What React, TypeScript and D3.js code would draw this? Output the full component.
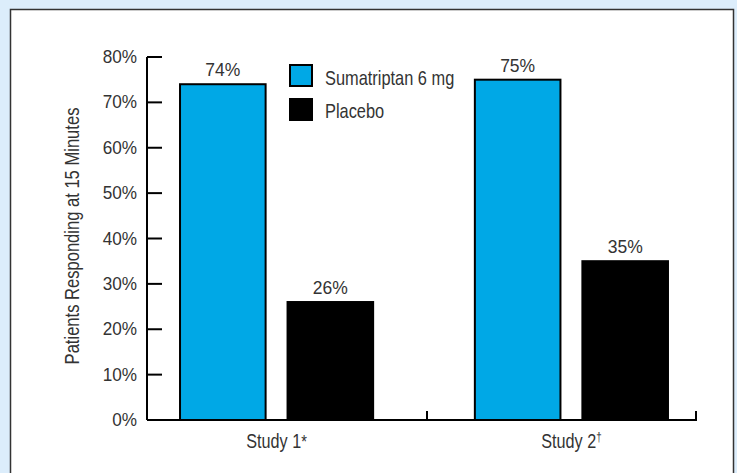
import React from "react";
import * as d3 from "d3";

const studies = ["Study 1", "Study 2"];
const studyMarks = ["*", "†"];
const seriesNames = ["Sumatriptan 6 mg", "Placebo"];
const sumatriptan = [74, 75];
const placebo = [26, 35];
const yTicks = [0, 10, 20, 30, 40, 50, 60, 70, 80];

const W = 737;
const H = 473;
const FONT = "'Liberation Sans', Arial, sans-serif";
const BLUE = "#00a8e6";
const INK = "#333";
const colors = [BLUE, "#000000"];

// Condensed text: Liberation Sans squeezed horizontally
function NText(props: {
  x: number;
  y: number;
  size: number;
  sx?: number;
  anchor?: "start" | "middle" | "end";
  rotate?: number;
  children: React.ReactNode;
}) {
  const { x, y, size, sx = 1, anchor = "start", rotate = 0, children } = props;
  return (
    <text
      transform={`translate(${x},${y}) rotate(${rotate}) scale(${sx},1)`}
      textAnchor={anchor}
      fontSize={size}
      fill={INK}
    >
      {children}
    </text>
  );
}

export default function App() {
  const axisX = 147;
  const axisEnd = 696;
  const y = d3.scaleLinear().domain([0, 80]).range([420, 57]);
  const x0 = d3
    .scaleBand<string>()
    .domain(studies)
    .range([axisX, 701])
    .paddingInner(0.345)
    .paddingOuter(0.112);
  const x1 = d3
    .scaleBand<string>()
    .domain(seriesNames)
    .range([0, x0.bandwidth()])
    .paddingInner(0.204);
  const groupTicks = [427, axisEnd];

  const values = [sumatriptan, placebo];

  return (
    <svg
      width={W}
      height={H}
      style={{ position: "absolute", left: 0, top: 0, display: "block" }}
      fontFamily={FONT}
    >
      <rect x={0} y={0} width={W} height={H} fill="#dcedfb" />
      <rect x={10.5} y={9.5} width={723} height={480} fill="#ffffff" stroke="#333" strokeWidth={1.5} />

      {/* y axis */}
      <line x1={axisX} x2={axisX} y1={y(80)} y2={y(0)} stroke="#000" strokeWidth={2} />
      {yTicks.map((t) => (
        <g key={t}>
          <line x1={axisX} x2={axisX + 15} y1={y(t)} y2={y(t)} stroke="#000" strokeWidth={2} />
          <NText x={137} y={y(t) + 6} size={17.5} sx={0.98} anchor="end">
            {t}%
          </NText>
        </g>
      ))}
      <NText x={79} y={236} size={19.5} sx={0.85} anchor="middle" rotate={-90}>
        Patients Responding at 15 Minutes
      </NText>

      {/* bars */}
      {studies.map((s, i) => (
        <g key={s} transform={`translate(${x0(s)},0)`}>
          {seriesNames.map((n, j) => {
            const v = values[j][i];
            const bx = x1(n)!;
            return (
              <g key={n}>
                <rect
                  x={bx}
                  y={y(v)}
                  width={x1.bandwidth()}
                  height={y(0) - y(v)}
                  fill={colors[j]}
                  stroke="#000"
                  strokeWidth={2}
                />
                <NText x={bx + x1.bandwidth() / 2} y={y(v) - 8} size={17.5} anchor="middle">
                  {v}%
                </NText>
              </g>
            );
          })}
          <NText x={x0.bandwidth() / 2} y={448} size={20} sx={0.81} anchor="middle">
            {s}
            {studyMarks[i] === "*" ? (
              <tspan fontSize={18}>{studyMarks[i]}</tspan>
            ) : (
              <tspan fontSize={12} dy={-7}>
                {studyMarks[i]}
              </tspan>
            )}
          </NText>
        </g>
      ))}

      {/* x axis */}
      <line x1={axisX} x2={axisEnd + 1} y1={y(0)} y2={y(0)} stroke="#000" strokeWidth={2} />
      {groupTicks.map((gx) => (
        <line key={gx} x1={gx} x2={gx} y1={y(0)} y2={y(0) - 9} stroke="#000" strokeWidth={2} />
      ))}

      {/* legend */}
      {seriesNames.map((n, j) => (
        <g key={n}>
          <rect
            x={290}
            y={65 + j * 34}
            width={22}
            height={21}
            fill={colors[j]}
            stroke="#000"
            strokeWidth={2}
          />
          <NText x={325} y={85 + j * 33} size={20} sx={0.82}>
            {n}
          </NText>
        </g>
      ))}
    </svg>
  );
}
